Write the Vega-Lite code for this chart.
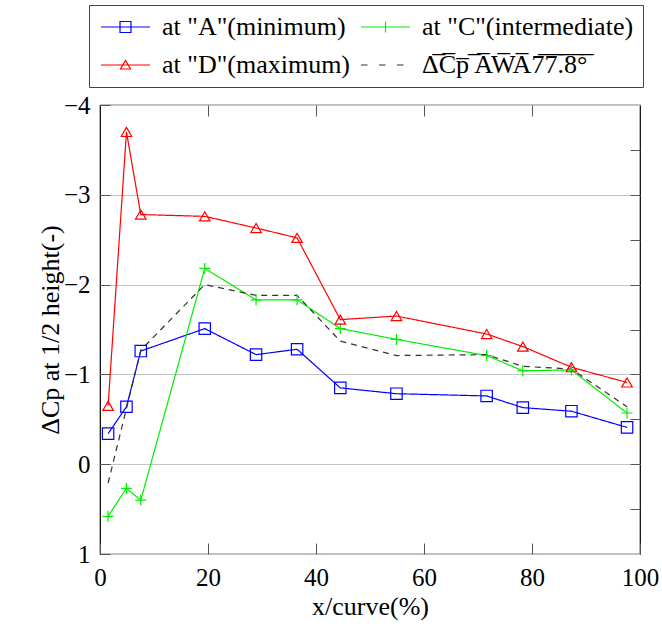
{
  "$schema": "https://vega.github.io/schema/vega-lite/v6.json",
  "width": 540,
  "height": 449,
  "autosize": "none",
  "padding": {"left": 100, "top": 105, "right": 22, "bottom": 74},
  "config": {
    "view": {"stroke": "black", "strokeWidth": 1.2},
    "font": "Liberation Serif",
    "axis": {"labelFont": "Liberation Serif", "titleFont": "Liberation Serif", "labelColor": "black", "titleColor": "black", "tickColor": "#555", "titleFontWeight": "normal"}
  },
  "data": {
    "values": [
      {"s": "A", "x": 1.5, "v": -0.34}, {"s": "A", "x": 4.9, "v": -0.64}, {"s": "A", "x": 7.55, "v": -1.26}, {"s": "A", "x": 19.4, "v": -1.51}, {"s": "A", "x": 28.9, "v": -1.22}, {"s": "A", "x": 36.5, "v": -1.28}, {"s": "A", "x": 44.5, "v": -0.85}, {"s": "A", "x": 54.9, "v": -0.785}, {"s": "A", "x": 71.6, "v": -0.76}, {"s": "A", "x": 78.3, "v": -0.63}, {"s": "A", "x": 87.3, "v": -0.59}, {"s": "A", "x": 97.6, "v": -0.41},
      {"s": "C", "x": 1.5, "v": 0.58}, {"s": "C", "x": 4.9, "v": 0.27}, {"s": "C", "x": 7.55, "v": 0.40}, {"s": "C", "x": 19.4, "v": -2.18}, {"s": "C", "x": 28.9, "v": -1.83}, {"s": "C", "x": 36.5, "v": -1.83}, {"s": "C", "x": 44.5, "v": -1.51}, {"s": "C", "x": 54.9, "v": -1.39}, {"s": "C", "x": 71.6, "v": -1.21}, {"s": "C", "x": 78.3, "v": -1.04}, {"s": "C", "x": 87.3, "v": -1.05}, {"s": "C", "x": 97.6, "v": -0.57},
      {"s": "D", "x": 1.5, "v": -0.65}, {"s": "D", "x": 4.9, "v": -3.70}, {"s": "D", "x": 7.55, "v": -2.78}, {"s": "D", "x": 19.4, "v": -2.76}, {"s": "D", "x": 28.9, "v": -2.63}, {"s": "D", "x": 36.5, "v": -2.52}, {"s": "D", "x": 44.5, "v": -1.61}, {"s": "D", "x": 54.9, "v": -1.65}, {"s": "D", "x": 71.6, "v": -1.45}, {"s": "D", "x": 78.3, "v": -1.31}, {"s": "D", "x": 87.3, "v": -1.08}, {"s": "D", "x": 97.6, "v": -0.91},
      {"s": "M", "x": 1.5, "v": 0.21}, {"s": "M", "x": 4.9, "v": -0.62}, {"s": "M", "x": 7.55, "v": -1.27}, {"s": "M", "x": 19.4, "v": -2.00}, {"s": "M", "x": 28.9, "v": -1.88}, {"s": "M", "x": 36.5, "v": -1.88}, {"s": "M", "x": 44.5, "v": -1.37}, {"s": "M", "x": 54.9, "v": -1.21}, {"s": "M", "x": 71.6, "v": -1.22}, {"s": "M", "x": 78.3, "v": -1.09}, {"s": "M", "x": 87.3, "v": -1.06}, {"s": "M", "x": 97.6, "v": -0.64}
    ]
  },
  "layer": [
    {
      "mark": {"type": "line", "strokeWidth": 1.2},
      "encoding": {
        "x": {"field": "x", "type": "quantitative", "scale": {"domain": [0, 100], "nice": false},
          "axis": {"orient": "bottom", "values": [0, 20, 40, 60, 80, 100], "grid": false, "domain": false, "tickSize": -11, "labelPadding": 22, "labelFontSize": 25, "title": "x/curve(%)", "titleFont": "Liberation Serif", "titleFontSize": 26, "titlePadding": 3, "labelFlush": false}},
        "y": {"field": "v", "type": "quantitative", "scale": {"domain": [-4, 1], "reverse": true, "nice": false, "zero": false},
          "axis": {"orient": "left", "values": [-4, -3.5, -3, -2.5, -2, -1.5, -1, -0.5, 0, 0.5, 1], "format": "d", "labelExpr": "datum.value % 1 === 0 ? replace(datum.label, '-', '\u2212') : ''", "grid": true, "gridColor": "#c4c4c4", "gridWidth": 1.2, "gridOpacity": {"condition": {"test": "datum.value % 1 !== 0", "value": 0}, "value": 1}, "domain": false, "tickSize": -10, "labelPadding": 20, "labelFontSize": 25, "title": "ΔCp at 1/2 height(-)", "titleFont": "Liberation Serif", "titleFontSize": 26, "titlePadding": 0, "labelFlush": false}},
        "color": {"field": "s", "type": "nominal", "scale": {"domain": ["A", "C", "D", "M"], "range": ["#0000ff", "#00ee00", "#ff0000", "#333333"]}, "legend": null},
        "strokeDash": {"field": "s", "type": "nominal", "scale": {"domain": ["A", "C", "D", "M"], "range": [[1, 0], [1, 0], [1, 0], [6, 5]]}, "legend": null}
      }
    },
    {
      "transform": [{"filter": "datum.s === 'A'"}],
      "mark": {"type": "point", "shape": "square", "filled": false, "size": 130, "strokeWidth": 1.2, "opacity": 1},
      "encoding": {
        "x": {"field": "x", "type": "quantitative", "axis": {"orient": "top", "values": [20, 40, 60, 80], "labels": false, "grid": false, "domain": false, "tickSize": -11, "title": null}},
        "y": {"field": "v", "type": "quantitative", "axis": {"orient": "right", "values": [-3.5, -3, -2.5, -2, -1.5, -1, -0.5, 0, 0.5], "labels": false, "grid": false, "domain": false, "tickSize": -10, "title": null}},
        "color": {"field": "s", "type": "nominal", "legend": null}
      }
    },
    {
      "transform": [{"filter": "datum.s === 'C'"}],
      "mark": {"type": "point", "shape": "M-1,0H1M0,-1V1", "filled": false, "size": 121, "strokeWidth": 1.2, "opacity": 1},
      "encoding": {
        "x": {"field": "x", "type": "quantitative", "axis": null},
        "y": {"field": "v", "type": "quantitative", "axis": null},
        "color": {"field": "s", "type": "nominal", "legend": null}
      }
    },
    {
      "transform": [{"filter": "datum.s === 'D'"}],
      "mark": {"type": "point", "shape": "triangle-up", "filled": false, "size": 110, "strokeWidth": 1.2, "opacity": 1},
      "encoding": {
        "x": {"field": "x", "type": "quantitative", "axis": null},
        "y": {"field": "v", "type": "quantitative", "axis": null},
        "color": {"field": "s", "type": "nominal", "legend": null}
      }
    },
    {
      "transform": [{"filter": "datum.x < 2"}],
      "mark": {"type": "point", "filled": false, "size": 400, "strokeWidth": 1.2, "opacity": 0},
      "encoding": {
        "x": {"field": "x", "type": "quantitative", "axis": null},
        "y": {"field": "v", "type": "quantitative", "axis": null},
        "color": {"field": "s", "type": "nominal",
          "legend": {"orient": "none", "legendX": -11, "legendY": -100, "columns": 2, "direction": "horizontal", "title": null, "strokeColor": "#444", "fillColor": "white", "padding": 9, "labelFont": "Liberation Serif", "labelFontSize": 26, "labelColor": "black", "labelLimit": 400, "symbolSize": 400, "symbolStrokeWidth": 1.2, "symbolOpacity": 1, "labelOffset": 38, "rowPadding": 12, "columnPadding": 7,
            "labelExpr": "datum.value === 'A' ? 'at \"A\"(minimum)' : datum.value === 'C' ? 'at \"C\"(intermediate)' : datum.value === 'D' ? 'at \"D\"(maximum)' : '\u2003Δ\u0305C\u0305p\u0305\u2009\u0305A\u0305W\u0305A\u03057\u03057\u0305.\u03058\u0305°\u0305'",
            "encode": {"labels": {"update": {"fontStyle": {"signal": "datum.value === 'M' ? 'italic' : 'normal'"}}}}}},
        "shape": {"field": "s", "type": "nominal", "scale": {"domain": ["A", "C", "D", "M"], "range": ["M-1,0H3.9M0.9,-0.55H2V0.55H0.9Z", "M-1,0H3.9M1.45,-0.55V0.55", "M-1,0H3.9M1.45,-0.45L1.95,0.4H0.95Z", "M-1,0H-0.35M0.8,0H1.45M2.6,0H3.25"]},
          "legend": {"orient": "none", "legendX": -11, "legendY": -100, "columns": 2, "direction": "horizontal", "title": null}}
      }
    }
  ],
  "resolve": {"axis": {"x": "independent", "y": "independent"}, "legend": {"color": "independent", "shape": "independent"}}
}
